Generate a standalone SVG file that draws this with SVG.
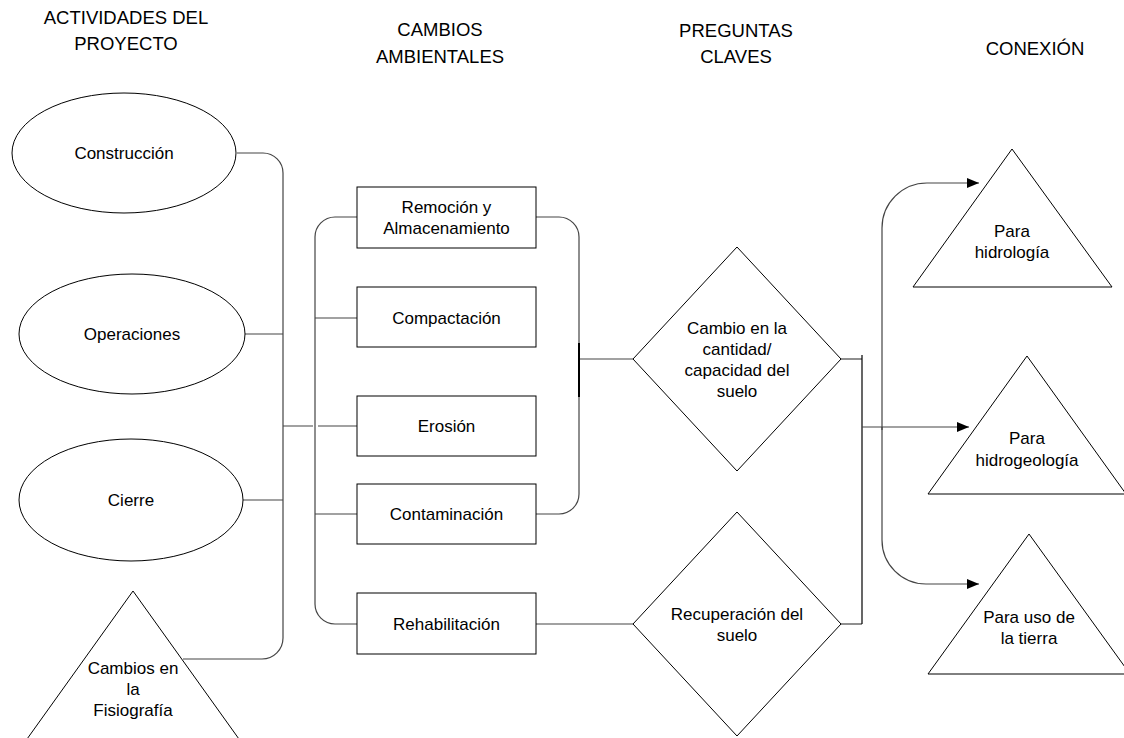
<svg xmlns="http://www.w3.org/2000/svg" width="1124" height="738" viewBox="0 0 1124 738">
<style>
.hdr{font-family:"Liberation Sans",Arial,sans-serif;font-size:18.5px;fill:#000;text-anchor:middle}
.lbl{font-family:"Liberation Sans",Arial,sans-serif;font-size:17px;fill:#000;text-anchor:middle}
.shape{fill:#fff;stroke:#000;stroke-width:1}
.con{fill:none;stroke:#444;stroke-width:1.2}
</style>
<defs>
<marker id="arr" markerUnits="userSpaceOnUse" markerWidth="12" markerHeight="10" refX="12" refY="5" orient="auto">
<path d="M0,0 L12,5 L0,10 Z" fill="#000"/>
</marker>
</defs>
<rect width="1124" height="738" fill="#fff"/>

<g id="headers">
<text class="hdr" x="126" y="24">ACTIVIDADES DEL</text>
<text class="hdr" x="126" y="50">PROYECTO</text>
<text class="hdr" x="440" y="36">CAMBIOS</text>
<text class="hdr" x="440" y="63">AMBIENTALES</text>
<text class="hdr" x="736" y="37">PREGUNTAS</text>
<text class="hdr" x="736" y="63">CLAVES</text>
<text class="hdr" x="1035" y="55">CONEXIÓN</text>
</g>

<g id="connectors">
<path class="con" d="M237,153 H263 A20,20 0 0 1 283,173 V638 A21,21 0 0 1 262,659 H183"/>
<path class="con" d="M245,334 H283"/>
<path class="con" d="M243,500 H283"/>
<path class="con" d="M283,426 H313 M318,426 H357"/>
<path class="con" d="M357,217 H335 A20,20 0 0 0 315,237 V604 A20,20 0 0 0 335,624 H357"/>
<path class="con" d="M315,318 H357"/>
<path class="con" d="M315,514 H357"/>
<path class="con" d="M536,217 H559 A20,20 0 0 1 579,237 V494 A20,20 0 0 1 559,514 H536"/>
<path class="con" d="M579,359 H633"/>
<path d="M579,343 V397" stroke="#000" stroke-width="2" fill="none"/>
<path class="con" d="M536,624 H633"/>
<path class="con" d="M841,359 H862"/>
<path class="con" d="M841,624 H862"/>
<path d="M862,355 V624" stroke="#000" stroke-width="1.2" fill="none"/>
<path class="con" d="M862,427 H969" marker-end="url(#arr)"/>
<path class="con" d="M882,430 V228 A45,45 0 0 1 927,183 H979" marker-end="url(#arr)"/>
<path class="con" d="M882,427 V540 A44,44 0 0 0 926,584 H979" marker-end="url(#arr)"/>
</g>

<g id="construccion">
<ellipse class="shape" cx="124" cy="153" rx="112" ry="60"/>
<text class="lbl" x="124" y="159">Construcción</text>
</g>
<g id="operaciones">
<ellipse class="shape" cx="132" cy="334" rx="113" ry="60"/>
<text class="lbl" x="132" y="340">Operaciones</text>
</g>
<g id="cierre">
<ellipse class="shape" cx="131" cy="500" rx="112" ry="61"/>
<text class="lbl" x="131" y="506">Cierre</text>
</g>
<g id="fisiografia">
<polygon class="shape" points="133,591 12,760 254,760"/>
<text class="lbl" x="133" y="674">Cambios en</text>
<text class="lbl" x="133" y="695">la</text>
<text class="lbl" x="133" y="716">Fisiografía</text>
</g>

<g id="remocion">
<rect class="shape" x="357" y="187" width="179" height="61"/>
<text class="lbl" x="446.5" y="213">Remoción y</text>
<text class="lbl" x="446.5" y="234">Almacenamiento</text>
</g>
<g id="compactacion">
<rect class="shape" x="357" y="287" width="179" height="60"/>
<text class="lbl" x="446.5" y="324">Compactación</text>
</g>
<g id="erosion">
<rect class="shape" x="357" y="396" width="179" height="60"/>
<text class="lbl" x="446.5" y="432">Erosión</text>
</g>
<g id="contaminacion">
<rect class="shape" x="357" y="484" width="179" height="60"/>
<text class="lbl" x="446.5" y="520">Contaminación</text>
</g>
<g id="rehabilitacion">
<rect class="shape" x="357" y="593" width="179" height="61"/>
<text class="lbl" x="446.5" y="630">Rehabilitación</text>
</g>

<g id="cambio-suelo">
<polygon class="shape" points="737,247 841,359 737,471 633,359"/>
<text class="lbl" x="737" y="334">Cambio en la</text>
<text class="lbl" x="737" y="355">cantidad/</text>
<text class="lbl" x="737" y="376">capacidad del</text>
<text class="lbl" x="737" y="397">suelo</text>
</g>
<g id="recuperacion">
<polygon class="shape" points="737,512 841,624 737,736 633,624"/>
<text class="lbl" x="737" y="620">Recuperación del</text>
<text class="lbl" x="737" y="641">suelo</text>
</g>

<g id="hidrologia">
<polygon class="shape" points="1012,149 1112,287 913,287"/>
<text class="lbl" x="1012" y="237">Para</text>
<text class="lbl" x="1012" y="258">hidrología</text>
</g>
<g id="hidrogeologia">
<polygon class="shape" points="1027,356 1126,494 928,494"/>
<text class="lbl" x="1027" y="444">Para</text>
<text class="lbl" x="1027" y="466">hidrogeología</text>
</g>
<g id="uso-tierra">
<polygon class="shape" points="1029,534 1130,674 928,674"/>
<text class="lbl" x="1029" y="623">Para uso de</text>
<text class="lbl" x="1029" y="644">la tierra</text>
</g>
</svg>
